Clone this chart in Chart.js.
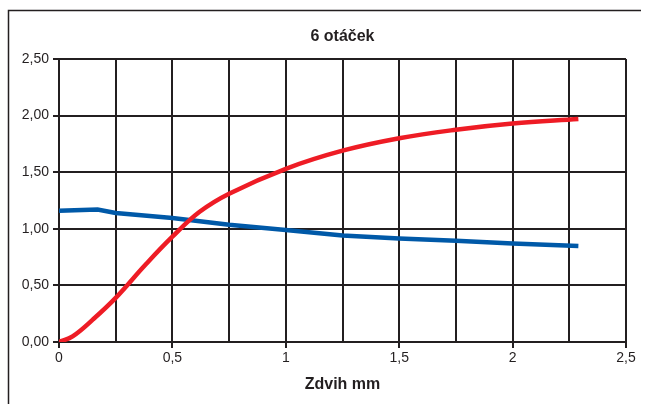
<!DOCTYPE html>
<html>
<head>
<meta charset="utf-8">
<script src="https://cdn.jsdelivr.net/npm/chart.js@4"></script>
<style>
html,body{margin:0;padding:0;background:#fff;}
#wrap{width:647px;height:404px;position:relative;}
</style>
</head>
<body>
<div id="wrap"><canvas id="c" width="647" height="404"></canvas></div>
<script>
const chartTitle = '6 otáček';
const xAxisTitle = 'Zdvih mm';
const redX = [0, 0.06, 0.15, 0.25, 0.38, 0.5, 0.62, 0.75, 1.0, 1.25, 1.5, 1.75, 2.0, 2.29];
const redY = [0, 0.05, 0.2, 0.39, 0.68, 0.93, 1.15, 1.31, 1.53, 1.69, 1.80, 1.875, 1.93, 1.97];
const blueX = [0, 0.17, 0.25, 0.5, 0.75, 1.0, 1.25, 1.5, 1.75, 2.0, 2.29];
const blueY = [1.16, 1.17, 1.14, 1.095, 1.035, 0.99, 0.94, 0.915, 0.895, 0.87, 0.848];
const xTickLabels = {0: '0', 0.5: '0,5', 1: '1', 1.5: '1,5', 2: '2', 2.5: '2,5'};
const yTickLabels = {0: '0,00', 0.5: '0,50', 1: '1,00', 1.5: '1,50', 2: '2,00', 2.5: '2,50'};

const ink = '#231f20';
const font = "'Liberation Sans', Arial, sans-serif";

const framePlugin = {
  id: 'frame',
  beforeDraw(chart) {
    const ctx = chart.ctx;
    ctx.save();
    ctx.fillStyle = '#fff';
    ctx.fillRect(0, 0, chart.width, chart.height);
    ctx.strokeStyle = ink;
    ctx.lineWidth = 1.5;
    ctx.beginPath();
    ctx.moveTo(8.5, 404);
    ctx.lineTo(8.5, 10.5);
    ctx.lineTo(641, 10.5);
    ctx.stroke();
    ctx.restore();
  }
};

const isHalf = v => Math.abs(v * 2 - Math.round(v * 2)) < 1e-6;

new Chart(document.getElementById('c'), {
  type: 'scatter',
  data: {
    datasets: [
      {
        data: redX.map((x, i) => ({x, y: redY[i]})),
        showLine: true,
        borderColor: '#ee1c25',
        borderWidth: 4.5,
        pointRadius: 0,
        tension: 0.4,
        fill: false
      },
      {
        data: blueX.map((x, i) => ({x, y: blueY[i]})),
        showLine: true,
        borderColor: '#0059a8',
        borderWidth: 4.5,
        pointRadius: 0,
        tension: 0,
        fill: false
      }
    ]
  },
  options: {
    responsive: false,
    animation: false,
    devicePixelRatio: 1,
    layout: {padding: {left: 0, right: 21, top: 0, bottom: 0}},
    plugins: {
      legend: {display: false},
      tooltip: {enabled: false},
      title: {
        display: true,
        text: chartTitle,
        fullSize: false,
        color: ink,
        font: {family: font, size: 16, weight: 'bold'},
        padding: {top: 27, bottom: 12.8}
      }
    },
    scales: {
      x: {
        type: 'linear',
        min: 0, max: 2.5,
        afterFit(s) { s.height = 62; },
        border: {color: ink, width: 2},
        grid: {
          color: ink, lineWidth: 2, tickLength: 6,
          tickColor: ctx => (ctx.tick && isHalf(ctx.tick.value)) ? ink : 'rgba(0,0,0,0)'
        },
        ticks: {
          stepSize: 0.25,
          autoSkip: false,
          maxRotation: 0,
          padding: 2,
          color: ink,
          font: {family: font, size: 14},
          callback: v => {
            const k = Math.round(v * 100) / 100;
            return xTickLabels[k] !== undefined ? xTickLabels[k] : '';
          }
        },
        title: {
          display: true,
          text: xAxisTitle,
          color: ink,
          font: {family: font, size: 16, weight: 'bold'},
          padding: {top: 0, bottom: 10}
        }
      },
      y: {
        type: 'linear',
        min: 0, max: 2.5,
        afterFit(s) { s.width = 59; },
        border: {color: ink, width: 2},
        grid: {color: ink, lineWidth: 2, tickLength: 6, tickColor: ink},
        ticks: {
          stepSize: 0.5,
          padding: 4,
          color: ink,
          font: {family: font, size: 14},
          callback: v => {
            const k = Math.round(v * 100) / 100;
            return yTickLabels[k] !== undefined ? yTickLabels[k] : '';
          }
        }
      }
    }
  },
  plugins: [framePlugin]
});
</script>
</body>
</html>
